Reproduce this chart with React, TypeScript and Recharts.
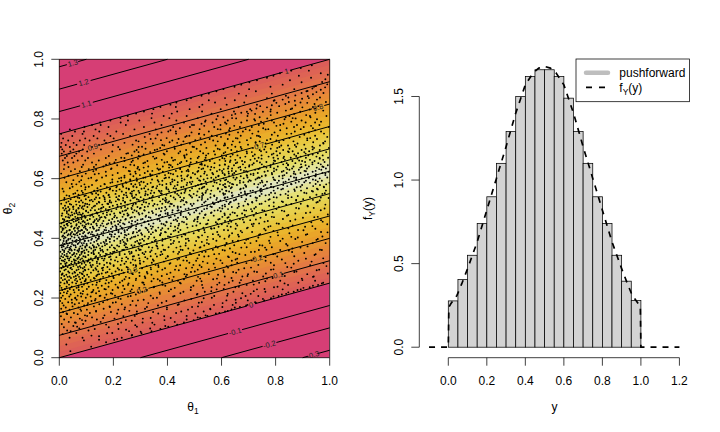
import { ComposedChart, Area, Bar, Line, Scatter, XAxis, YAxis, ReferenceLine, ReferenceArea, CartesianGrid } from 'recharts'

// left panel: colour bands, given as theta2 where each band starts at theta1 = 0 and theta1 = 1
const bandStartLeft = [-1, 0, .019, .038, .056, .075, .094, .113, .131, .15, .169, .188, .206, .225, .244, .263, .281, .3, .319, .338, .356, .375, .394, .413, .431, .45, .469, .488, .506, .525, .544, .563, .581, .6, .619, .638, .656, .675, .694, .713, .731, .75]
const bandStartRight = [-1, .25, .269, .288, .306, .325, .344, .363, .381, .4, .419, .438, .456, .475, .494, .513, .531, .55, .569, .588, .606, .625, .644, .663, .681, .7, .719, .738, .756, .775, .794, .813, .831, .85, .869, .888, .906, .925, .944, .963, .981, 1]
const bandColors = [
  '#D63E75', '#DC5D59', '#DE6355', '#E06A50', '#E2724A', '#E47A44', '#E6823E', '#E78B36', '#E89431', '#E99D2C', '#E9A529',
  '#EAAE2A', '#EAB62D', '#E9BF35', '#E8C840', '#E7CF4C', '#E6D656', '#E5DC62', '#E5E077', '#E4E49A', '#E2E6BD',
  '#E2E6BD', '#E4E49A', '#E5E077', '#E5DC62', '#E6D656', '#E7CF4C', '#E8C840', '#E9BF35', '#EAB62D', '#EAAE2A',
  '#E9A529', '#E99D2C', '#E89431', '#E78B36', '#E6823E', '#E47A44', '#E2724A', '#E06A50', '#DE6355', '#DC5D59', '#D63E75',
]
const gridStops = [.02, .04, .06, .08, .1, .12, .14, .16, .18, .2, .22, .24, .26, .28, .3, .32, .34, .36, .38, .4, .42, .44, .46, .48, .5, .52, .54, .56, .58, .6, .62, .64, .66, .68, .7, .72, .74, .76, .78, .8, .82, .84, .86, .88, .9, .92, .94, .96, .98]
const unitTicks = [0, .2, .4, .6, .8, 1]

// contour pieces: theta1 from, theta2 from, theta1 to, theta2 to (gaps are for the labels)
const contourPieces = [
  [0, .975, .028, .982], [.07, .9925, .1, 1],
  [0, .9, .066, .9165], [.116, .929, .4, 1],
  [0, .825, .077, .844], [.124, .856, .7, 1],
  [0, .75, .826, .9565], [.853, .963, 1, 1],
  [0, .675, .089, .697], [.153, .713, 1, .925],
  [0, .6, .935, .834], [.98, .845, 1, .85],
  [0, .525, .715, .704], [.765, .716, 1, .775],
  [0, .45, 1, .7],
  [0, .375, 1, .625],
  [0, .3, 1, .55],
  [0, .225, .245, .286], [.295, .299, 1, .475],
  [0, .15, .28, .22], [.33, .2325, .711, .3278], [.754, .3385, 1, .4],
  [0, .075, .79, .2725], [.83, .2825, 1, .325],
  [0, 0, .693, .173], [.724, .181, 1, .25],
  [.3, 0, .624, .081], [.676, .094, 1, .175],
  [.6, 0, .752, .038], [.803, .051, 1, .1],
  [.9, 0, .92, .005], [.956, .014, 1, .025],
]
const contourLabels = [
  { x: .05, y: .9875, text: '1.3' }, { x: .09, y: .9225, text: '1.2' }, { x: .1, y: .85, text: '1.1' },
  { x: .84, y: .96, text: '1' }, { x: .124, y: .706, text: '0.9' }, { x: .957, y: .839, text: '0.8' },
  { x: .74, y: .71, text: '0.7' }, { x: .27, y: .2925, text: '0.3' }, { x: .305, y: .226, text: '0.2' },
  { x: .733, y: .333, text: '0.2' }, { x: .81, y: .2775, text: '0.1' }, { x: .709, y: .177, text: '0' },
  { x: .65, y: .0875, text: '-0.1' }, { x: .777, y: .0445, text: '-0.2' }, { x: .938, y: .0095, text: '-0.3' },
]

// sample points (estimated), one row per theta2 (first number), then theta1 values, all in thousandths
const dotRows = [
  [22, 41], [37, 118], [44, 26], [52, 173], [58, 91], [63, 214], [67, 38], [72, 147], [76, 269], [79, 12], [83, 196, 63],
  [87, 301], [91, 108, 29], [94, 247], [98, 74, 336], [102, 183, 17], [106, 52, 392], [109, 281, 126], [113, 9, 217, 88],
  [117, 344, 61], [120, 153, 427, 35], [124, 268, 97], [128, 18, 471, 139], [131, 76, 309, 204], [135, 43, 512, 121],
  [139, 237, 6, 388], [142, 95, 167, 541], [146, 29, 286, 68], [150, 432, 113, 592, 54], [153, 191, 14, 347], [157, 81, 623, 259, 136],
  [161, 38, 476, 102, 218], [164, 317, 7, 164, 558], [168, 71, 649, 24, 243, 398], [172, 128, 513, 49, 186], [175, 92, 284, 691, 16, 365],
  [179, 57, 442, 148, 231], [183, 11, 329, 106, 604, 73], [186, 209, 33, 527, 162, 724], [190, 86, 396, 3, 271, 119], [194, 46, 652, 178, 312, 64],
  [197, 134, 488, 22, 753, 227], [201, 98, 361, 59, 564, 168, 7], [205, 254, 37, 792, 116, 421, 81], [208, 152, 13, 338, 68, 621, 206],
  [212, 42, 283, 104, 509, 823, 174], [216, 79, 191, 4, 448, 136, 677, 28], [219, 233, 56, 371, 119, 847, 17, 292], [223, 147, 31, 562, 88, 263, 719, 405],
  [227, 11, 197, 324, 72, 486, 126, 881, 53], [230, 102, 39, 608, 241, 167, 759, 21], [234, 296, 64, 427, 143, 8, 903, 218, 531],
  [238, 84, 182, 351, 27, 664, 109, 46, 807], [241, 157, 2, 273, 496, 71, 938, 236, 392], [245, 36, 123, 584, 208, 91, 314, 719],
  [249, 62, 449, 171, 19, 833, 256, 104, 971], [252, 139, 81, 307, 5, 627, 224, 48, 381], [256, 193, 28, 526, 94, 762, 341, 149, 66],
  [260, 13, 283, 116, 418, 58, 899, 174, 672, 36], [263, 241, 77, 364, 152, 21, 569, 98, 461], [267, 43, 201, 7, 789, 128, 318, 86, 637, 259],
  [271, 162, 54, 423, 109, 246, 938, 31, 513, 73], [274, 92, 297, 18, 184, 696, 137, 379, 61, 834], [278, 26, 141, 472, 68, 221, 103, 587, 9, 341],
  [282, 83, 194, 326, 49, 764, 12, 269, 536, 157, 993], [285, 117, 37, 411, 76, 238, 654, 172, 296, 58], [289, 3, 208, 89, 501, 144, 33, 877, 363, 721],
  [293, 161, 64, 278, 19, 442, 126, 607, 96, 231, 952], [296, 47, 339, 108, 186, 24, 553, 71, 792, 254], [300, 134, 8, 391, 216, 87, 684, 158, 306, 41, 469],
  [304, 69, 249, 119, 31, 526, 178, 843, 93, 367, 16], [307, 201, 52, 432, 141, 284, 76, 619, 13, 988, 323], [311, 98, 166, 37, 356, 227, 736, 63, 496, 124, 274],
  [315, 22, 408, 189, 83, 571, 299, 6, 149, 867, 44, 241], [318, 113, 57, 264, 342, 176, 658, 27, 93, 481, 782], [322, 216, 71, 139, 19, 387, 531, 247, 46, 933, 104, 312],
  [326, 88, 164, 36, 459, 281, 9, 712, 123, 596, 61, 206], [329, 143, 272, 54, 346, 21, 823, 191, 78, 437, 109, 652], [333, 31, 232, 117, 511, 67, 394, 158, 976, 3, 296, 84],
  [337, 184, 42, 318, 97, 627, 248, 14, 763, 133, 469, 72, 211], [340, 59, 136, 401, 26, 276, 869, 169, 89, 552, 338, 7], [344, 107, 223, 48, 374, 151, 688, 19, 293, 76, 517, 944],
  [348, 28, 196, 82, 439, 127, 261, 64, 798, 356, 11, 591, 172], [351, 146, 39, 308, 94, 223, 483, 55, 906, 189, 652, 119, 267],
  [355, 71, 4, 258, 162, 377, 108, 541, 33, 723, 204, 86, 422, 319], [359, 213, 127, 46, 341, 18, 612, 284, 67, 849, 153, 496, 92],
  [362, 37, 178, 101, 449, 239, 57, 766, 301, 12, 568, 133, 964, 386], [366, 84, 293, 151, 23, 364, 206, 631, 74, 118, 477, 41, 862],
  [370, 9, 246, 112, 522, 61, 187, 331, 693, 29, 137, 404, 786, 272], [373, 159, 78, 306, 43, 448, 221, 96, 579, 16, 918, 362, 128],
  [377, 53, 194, 267, 124, 647, 32, 382, 86, 502, 241, 741, 7, 169], [381, 101, 324, 19, 176, 413, 68, 839, 247, 553, 142, 296, 47],
  [384, 226, 91, 38, 361, 154, 618, 13, 468, 293, 985, 116, 71, 707], [388, 62, 187, 443, 129, 26, 343, 76, 527, 238, 898, 164, 281],
  [392, 138, 27, 252, 381, 94, 661, 203, 49, 479, 313, 776, 108, 581], [395, 78, 173, 4, 298, 118, 546, 234, 64, 412, 951, 33, 357, 691],
  [399, 214, 41, 329, 146, 89, 476, 263, 611, 17, 826, 186, 392, 121], [403, 56, 268, 104, 437, 23, 179, 736, 72, 351, 516, 241, 882, 135],
  [406, 193, 11, 316, 84, 594, 147, 402, 221, 46, 664, 973, 281, 98, 453], [410, 129, 67, 248, 373, 31, 528, 162, 809, 96, 291, 629, 14],
  [414, 34, 206, 117, 461, 76, 339, 187, 743, 53, 413, 256, 568, 917, 141], [417, 88, 303, 19, 156, 639, 229, 43, 376, 107, 497, 851, 272, 64],
  [421, 163, 47, 274, 121, 391, 8, 584, 196, 713, 92, 331, 441, 968, 242], [425, 71, 219, 136, 28, 516, 358, 77, 671, 183, 294, 792, 423, 58],
  [428, 251, 103, 39, 327, 167, 609, 82, 448, 211, 883, 12, 536, 146, 376], [432, 16, 191, 284, 69, 403, 128, 758, 341, 54, 563, 233, 947, 98, 652],
  [436, 148, 57, 366, 231, 91, 474, 23, 697, 172, 319, 826, 114, 533, 262], [439, 73, 266, 124, 6, 428, 197, 589, 44, 346, 773, 211, 634, 96, 909],
  [443, 207, 31, 153, 392, 86, 507, 271, 658, 18, 441, 139, 863, 304, 63],[447, 118, 241, 64, 331, 176, 543, 27, 712, 386, 99, 471, 991, 218, 601],
  [450, 43, 289, 159, 8, 413, 107, 626, 236, 79, 804, 348, 521, 181, 739], [454, 192, 72, 258, 126, 461, 36, 579, 314, 683, 16, 397, 932, 224, 94],
  [458, 61, 143, 372, 217, 89, 498, 269, 771, 29, 613, 163, 436, 854, 328], [461, 227, 104, 19, 341, 184, 551, 66, 423, 706, 131, 289, 968, 47, 631],
  [465, 82, 308, 138, 51, 472, 246, 593, 13, 369, 827, 196, 668, 113, 511], [469, 171, 37, 263, 406, 96, 744, 213, 534, 68, 337, 901, 151, 439, 622],
  [472, 24, 126, 381, 279, 59, 603, 168, 459, 786, 234, 84, 514, 956, 319, 693], [476, 206, 93, 321, 147, 41, 571, 253, 427, 9, 658, 114, 842, 368, 719],
  [480, 69, 188, 296, 34, 483, 122, 632, 358, 77, 764, 239, 541, 993, 401], [483, 141, 252, 11, 393, 203, 87, 519, 676, 162, 449, 307, 873, 56, 611],
  [487, 46, 331, 107, 224, 563, 74, 418, 789, 176, 641, 272, 928, 499, 138], [491, 193, 28, 286, 154, 376, 99, 597, 234, 713, 451, 62, 832, 527, 343],
  [494, 116, 63, 419, 247, 506, 181, 684, 19, 314, 751, 132, 586, 967, 278, 441], [498, 38, 211, 358, 89, 467, 146, 624, 268, 803, 52, 536, 396, 709, 172],
  [502, 157, 83, 301, 14, 438, 229, 659, 121, 379, 876, 512, 267, 941, 71, 593], [505, 243, 51, 186, 392, 104, 727, 316, 564, 33, 449, 812, 163, 638, 289],
  [509, 76, 132, 271, 491, 21, 603, 347, 776, 198, 424, 918, 93, 547, 681], [513, 214, 44, 363, 159, 528, 253, 699, 111, 462, 839, 306, 612, 63, 984],
  [516, 96, 283, 178, 411, 7, 574, 332, 748, 139, 497, 228, 663, 893, 381], [520, 148, 26, 321, 243, 536, 87, 631, 402, 793, 192, 471, 951, 568, 714],
  [524, 61, 209, 373, 124, 449, 296, 687, 34, 541, 823, 169, 618, 406, 762], [527, 113, 263, 458, 81, 596, 344, 729, 187, 512, 876, 236, 963, 646, 391],
  [531, 42, 168, 312, 429, 217, 654, 98, 778, 383, 549, 902, 287, 691, 131], [535, 236, 74, 393, 528, 149, 611, 334, 846, 461, 19, 731, 273, 996, 583],
  [538, 186, 301, 56, 447, 622, 251, 793, 108, 518, 369, 674, 927, 211, 859], [542, 93, 269, 412, 163, 573, 346, 741, 37, 486, 639, 882, 221, 707, 528],
  [546, 144, 327, 481, 71, 608, 239, 776, 396, 532, 951, 284, 664, 183, 818], [549, 208, 52, 379, 559, 122, 696, 436, 837, 268, 613, 973, 319, 748, 497],
  [553, 87, 296, 463, 174, 638, 351, 726, 541, 906, 247, 428, 783, 118, 672], [557, 231, 16, 406, 319, 594, 686, 153, 847, 511, 269, 938, 628, 744, 371],
  [560, 129, 368, 483, 67, 617, 276, 793, 562, 894, 198, 439, 716, 341, 986], [564, 257, 403, 96, 548, 186, 669, 821, 329, 743, 467, 956, 602, 223, 869],
  [568, 39, 314, 527, 141, 681, 423, 768, 248, 587, 916, 359, 808, 634, 491], [571, 176, 286, 451, 638, 97, 733, 531, 878, 344, 616, 979, 211, 792, 396],
  [575, 213, 362, 504, 81, 691, 274, 843, 569, 427, 939, 756, 153, 628, 319], [579, 121, 437, 298, 606, 762, 381, 898, 513, 687, 234, 828, 964, 471, 657],
  [582, 266, 46, 544, 396, 721, 167, 613, 857, 488, 948, 326, 783, 639, 526], [586, 189, 338, 473, 668, 248, 806, 582, 927, 411, 743, 631, 999, 296, 874],
  [590, 74, 418, 303, 561, 699, 837, 216, 492, 768, 624, 956, 367, 886, 541], [593, 229, 136, 381, 596, 749, 453, 912, 287, 668, 812, 521, 971, 708],
  [597, 343, 463, 196, 617, 794, 534, 876, 262, 726, 938, 418, 651, 849, 571], [601, 108, 286, 511, 389, 682, 826, 453, 963, 732, 607, 221, 897, 548],
  [604, 241, 406, 579, 158, 736, 318, 644, 868, 486, 922, 791, 696, 991], [608, 361, 84, 523, 671, 437, 813, 274, 588, 749, 947, 628, 856, 473],
  [612, 197, 298, 612, 476, 763, 391, 908, 546, 693, 832, 984, 718, 343], [615, 421, 263, 569, 131, 708, 873, 641, 949, 336, 787, 502, 919, 611],
  [619, 316, 494, 647, 216, 786, 566, 841, 404, 973, 734, 604, 892], [623, 172, 383, 538, 696, 453, 823, 937, 281, 759, 626, 868, 996, 511],
  [626, 257, 431, 602, 344, 771, 514, 907, 683, 829, 471, 948, 638], [630, 136, 368, 559, 724, 476, 851, 296, 671, 969, 803, 593, 886],
  [634, 289, 447, 639, 193, 794, 532, 916, 363, 741, 861, 986, 624], [637, 406, 573, 246, 688, 839, 516, 952, 766, 312, 891, 663],
  [641, 329, 481, 163, 626, 757, 923, 549, 808, 383, 973, 702, 866], [645, 214, 538, 703, 412, 846, 646, 911, 277, 781, 593, 993],
  [648, 361, 483, 612, 749, 936, 521, 828, 679, 894, 438, 967], [652, 186, 446, 574, 792, 653, 873, 311, 719, 958, 526, 841],
  [656, 399, 267, 631, 508, 766, 909, 686, 822, 451, 981], [659, 326, 557, 731, 471, 862, 614, 944, 241, 798, 676, 898],
  [663, 428, 593, 209, 707, 834, 538, 927, 379, 651, 976], [667, 291, 486, 748, 611, 881, 353, 963, 723, 809, 566],
  [670, 416, 669, 541, 792, 229, 912, 464, 856, 737, 994], [674, 347, 516, 633, 774, 893, 298, 688, 951, 831],
  [678, 268, 462, 601, 748, 921, 543, 806, 659, 974], [681, 389, 576, 723, 312, 869, 641, 937, 471, 786],
  [685, 441, 254, 694, 532, 816, 956, 608, 883], [689, 336, 614, 766, 487, 906, 293, 849, 712, 987],
  [692, 521, 398, 657, 803, 924, 572, 746, 863], [696, 286, 469, 741, 636, 896, 353, 963, 828],
  [700, 427, 586, 782, 319, 674, 911, 508, 851], [703, 544, 373, 716, 623, 942, 806, 997],
  [707, 306, 493, 651, 876, 762, 426, 936], [711, 388, 578, 733, 846, 964, 609, 821],
  [714, 451, 271, 698, 524, 906, 787, 638], [718, 346, 612, 763, 483, 881, 977],
  [722, 539, 408, 667, 813, 939, 726], [725, 293, 586, 741, 866, 459, 983, 642],
  [729, 376, 503, 694, 829, 917, 768], [733, 441, 623, 556, 781, 953, 338],
  [736, 522, 708, 851, 397, 928, 653], [740, 316, 598, 743, 466, 889, 991],
  [744, 481, 671, 808, 564, 946, 731], [747, 363, 536, 786, 906, 629],
  [751, 432, 616, 858, 714, 979, 517], [755, 489, 661, 796, 923, 378],
  [758, 553, 736, 871, 431, 968], [762, 411, 628, 817, 704, 946],
  [766, 519, 689, 893, 586, 773], [769, 446, 754, 631, 938, 841],
  [773, 573, 712, 868, 483, 997], [777, 536, 803, 647, 931],
  [780, 491, 738, 596, 879, 962], [784, 618, 829, 526, 756],
  [788, 673, 911, 567, 794], [791, 539, 746, 858, 968],
  [795, 623, 786, 896, 694], [799, 581, 833, 721, 953],
  [802, 654, 874, 769], [806, 607, 741, 929, 837],
  [810, 696, 851, 988], [813, 638, 782, 913],
  [817, 724, 869, 651], [821, 673, 806, 947],
  [824, 753, 891, 694], [828, 711, 838, 976],
  [832, 782, 926], [835, 729, 861, 946],
  [839, 768, 899], [843, 813, 958, 743],
  [846, 786, 873], [850, 836, 944],
  [854, 803, 917], [857, 849, 986],
  [861, 871, 793], [865, 826, 953], [868, 898], [872, 847, 964], [876, 919], [879, 873], [883, 938], [887, 896, 977],
  [890, 951], [894, 918], [898, 967], [902, 936], [906, 983], [910, 949], [916, 991], [924, 972], [933, 984], [948, 993],
]

// second pass over the same panel, between the rows above
const moreDotRows = [
  [60, 147, 203], [67, 231, 86], [74, 268, 119], [82, 304, 177], [89, 341, 42, 258], [96, 374, 219, 131], [104, 403, 287, 66], [111, 436, 352, 173],
  [118, 461, 308, 229, 58], [126, 497, 246, 389, 84], [133, 521, 412, 162, 338], [140, 548, 279, 471, 103], [148, 579, 366, 503, 27, 214],
  [155, 613, 287, 451, 136, 534], [162, 637, 398, 559, 241, 78], [170, 668, 324, 491, 187, 603], [177, 696, 438, 572, 263, 104, 641],
  [184, 727, 379, 516, 198, 653, 47], [192, 758, 463, 618, 291, 132, 697], [199, 783, 534, 347, 672, 218, 59], [207, 811, 426, 689, 264, 573, 149, 736],
  [214, 839, 511, 372, 708, 196, 623, 86], [221, 867, 459, 644, 307, 762, 123, 538], [229, 893, 582, 413, 731, 268, 826, 172],
  [236, 926, 487, 651, 349, 794, 216, 563, 71], [244, 957, 528, 693, 382, 846, 254, 611, 137], [251, 976, 446, 739, 592, 311, 884, 183, 667, 29],
  [258, 641, 372, 817, 508, 233, 946, 97, 439, 716], [265, 284, 583, 131, 768, 406, 897, 62, 521, 349], [272, 677, 199, 468, 941, 316, 754, 38, 612],
  [280, 398, 826, 147, 553, 272, 698, 463, 11, 917, 86], [287, 731, 324, 608, 178, 869, 487, 56, 253, 643], [295, 512, 94, 783, 381, 221, 663, 428, 961, 137],
  [302, 858, 253, 576, 43, 709, 338, 162, 491, 624, 79], [310, 447, 928, 116, 637, 283, 794, 519, 24, 366, 201], [317, 692, 187, 548, 72, 411, 836, 298, 139, 603, 977],
  [325, 349, 763, 14, 506, 231, 638, 107, 884, 472, 56, 298], [332, 581, 143, 912, 326, 719, 68, 443, 254, 167, 658, 37], [339, 272, 806, 401, 96, 536, 189, 743, 31, 624, 361],
  [347, 948, 128, 487, 666, 242, 53, 381, 791, 176, 573, 314], [354, 443, 82, 709, 199, 861, 336, 18, 528, 267, 641, 126], [361, 159, 604, 296, 971, 73, 456, 738, 233, 391, 44, 817],
  [369, 519, 37, 344, 673, 128, 892, 251, 433, 96, 761, 586, 202], [376, 278, 751, 146, 467, 59, 613, 359, 844, 214, 102, 536, 13], [384, 686, 421, 83, 937, 301, 168, 546, 27, 779, 243, 619],
  [391, 94, 353, 817, 506, 226, 641, 16, 424, 173, 729, 288, 59], [398, 569, 142, 873, 307, 76, 468, 698, 251, 34, 382, 956, 187],
  [405, 332, 781, 18, 513, 203, 627, 91, 409, 858, 276, 146, 549], [412, 124, 466, 739, 58, 306, 912, 193, 588, 373, 41, 661, 243],
  [420, 807, 287, 538, 111, 394, 68, 676, 219, 479, 26, 992, 346], [427, 173, 624, 356, 84, 763, 241, 513, 903, 37, 429, 298, 139],
  [434, 561, 12, 438, 211, 847, 322, 126, 694, 381, 67, 573, 256], [441, 284, 716, 94, 493, 163, 621, 936, 46, 338, 781, 226, 412],
  [449, 653, 137, 378, 29, 548, 812, 267, 108, 443, 719, 193, 584], [456, 86, 316, 974, 454, 204, 636, 53, 759, 396, 129, 511, 281],
  [463, 501, 244, 679, 18, 363, 873, 148, 588, 431, 72, 727, 302], [471, 156, 794, 33, 412, 268, 626, 511, 97, 943, 331, 203, 468],
  [478, 373, 612, 121, 847, 256, 48, 539, 686, 176, 449, 83, 764], [485, 28, 561, 293, 728, 401, 139, 912, 64, 346, 649, 226, 478],
  [493, 691, 182, 437, 99, 823, 316, 574, 243, 36, 758, 507, 391], [500, 253, 886, 71, 369, 603, 154, 478, 721, 24, 546, 981, 298],
  [507, 408, 127, 664, 328, 52, 793, 216, 559, 438, 919, 86, 613], [515, 741, 274, 39, 486, 181, 627, 352, 858, 103, 571, 416, 697],
  [522, 312, 588, 146, 956, 243, 469, 73, 713, 394, 634, 827, 186], [529, 527, 18, 774, 221, 396, 652, 119, 876, 453, 293, 581, 938],
  [537, 167, 613, 342, 804, 491, 68, 726, 279, 559, 967, 423, 136], [544, 692, 248, 441, 98, 573, 846, 317, 763, 182, 508, 641, 27],
  [551, 376, 914, 136, 529, 263, 687, 451, 59, 798, 338, 606, 982], [559, 83, 466, 749, 211, 618, 378, 871, 142, 543, 293, 707, 934],
  [566, 586, 304, 12, 827, 432, 671, 188, 518, 953, 257, 746, 396], [573, 236, 691, 459, 109, 783, 347, 612, 892, 49, 536, 274, 978],
  [581, 412, 63, 859, 524, 281, 736, 168, 643, 371, 987, 594, 93], [588, 751, 196, 438, 906, 312, 574, 26, 681, 829, 246, 483],
  [595, 139, 613, 364, 798, 52, 517, 263, 948, 426, 703, 81], [603, 487, 229, 876, 118, 656, 394, 741, 19, 562, 311, 923],
  [610, 68, 763, 338, 589, 173, 948, 451, 694, 241, 826, 34], [617, 536, 146, 412, 867, 7, 718, 283, 627, 369, 984, 98],
  [625, 261, 691, 43, 478, 794, 126, 583, 912, 327, 653, 76], [632, 17, 843, 373, 608, 191, 736, 526, 961, 58, 447, 109],
  [639, 562, 128, 781, 291, 896, 34, 669, 418, 237, 83, 977], [647, 88, 406, 714, 19, 613, 846, 173, 527, 263, 136],
  [654, 317, 52, 936, 486, 121, 742, 204, 658, 31, 389], [661, 146, 794, 13, 543, 272, 887, 68, 421, 633, 96],
  [669, 21, 603, 359, 106, 829, 47, 512, 241, 963, 172], [676, 463, 84, 716, 183, 28, 294, 876, 56, 617],
  [684, 128, 9, 551, 248, 792, 63, 386, 911, 36], [691, 73, 693, 196, 17, 447, 103, 846, 278, 41],
  [698, 11, 362, 154, 758, 52, 593, 224, 937, 87], [706, 218, 39, 498, 121, 671, 6, 814, 293],
  [713, 64, 147, 613, 24, 381, 92, 871, 198], [720, 173, 8, 436, 241, 726, 53, 976, 319],
  [728, 33, 284, 112, 569, 76, 803, 167, 418], [735, 96, 201, 14, 659, 141, 917, 356],
  [743, 48, 262, 127, 738, 189, 471, 583], [750, 178, 7, 334, 86, 841, 516, 236],
  [758, 91, 211, 403, 58, 679, 148], [765, 134, 278, 39, 596, 763, 357],
  [773, 93, 421, 182, 904, 313, 668], [780, 153, 246, 498, 817, 378, 121],
  [788, 227, 352, 151, 613, 946, 461], [795, 189, 433, 296, 724, 254, 541],
  [803, 226, 512, 341, 863, 639, 407], [810, 253, 386, 471, 927, 586],
  [818, 284, 563, 343, 698, 416], [825, 313, 436, 781, 646, 528],
  [833, 348, 597, 482, 856, 706], [840, 374, 518, 663, 431, 938],
  [848, 411, 731, 529, 619], [855, 433, 576, 892, 684],
  [863, 471, 649, 553, 796], [870, 487, 768, 613, 923],
  [878, 526, 691, 838], [885, 553, 786, 664],
  [893, 581, 727, 914], [900, 607, 869, 702],
  [908, 648, 781, 942], [915, 673, 826],
  [923, 703, 896], [930, 731, 853], [938, 768, 931], [945, 792, 886], [953, 816, 967], [962, 858, 923], [971, 893], [980, 934],
]

// right panel
const binMids = [.025, .075, .125, .175, .225, .275, .325, .375, .425, .475, .525, .575, .625, .675, .725, .775, .825, .875, .925, .975]
const binHeights = [.277, .405, .55, .74, .9, 1.1, 1.29, 1.5, 1.62, 1.66, 1.66, 1.62, 1.49, 1.29, 1.1, .9, .74, .55, .395, .28]
const curveX = [-.1, 0, .003, .013, .045, .07, .1, .15, .2, .25, .3, .35, .4, .44, .47, .5, .53, .56, .6, .65, .7, .75, .8, .85, .9, .93, .955, .987, .997, 1, 1.2]
const curveF = [0, 0, .24, .26, .31, .38, .47, .63, .82, 1.01, 1.2, 1.4, 1.57, 1.64, 1.67, 1.68, 1.67, 1.64, 1.57, 1.4, 1.2, 1.01, .82, .63, .47, .38, .31, .26, .24, 0, 0]
const yTicks = [0, .5, 1, 1.5]
const xTicks = [0, .2, .4, .6, .8, 1, 1.2]

const FONT = '"Liberation Sans", Arial, sans-serif'
const MARGIN = { top: 59.3, right: 30.3, bottom: 0, left: 0 }
const BIN_PX = 9.63

const bandRows = [
  Object.fromEntries([['x', 0], ...bandStartLeft.map((v, i) => [`b${i}`, [v, 3]])]),
  Object.fromEntries([['x', 1], ...bandStartRight.map((v, i) => [`b${i}`, [v, 3]])]),
]
const dots = [...dotRows, ...moreDotRows].flatMap((r) => r.slice(1).map((v) => ({ x: v / 1000, y: r[0] / 1000 })))

const binRows = binMids.map((x, i) => ({ x, height: binHeights[i] }))
const curveRows = curveX.map((x, i) => ({ x, curve: curveF[i] }))

function BottomTick({ x, y, payload }: any) {
  return <text x={x} y={y + 19} textAnchor="middle" fontSize={12} fontFamily={FONT} fill="#000">{payload.value.toFixed(1)}</text>
}

function LeftTick({ x, y, payload }: any) {
  return <text transform={`translate(${x - 8.7},${y}) rotate(-90)`} textAnchor="middle" fontSize={12} fontFamily={FONT} fill="#000">{payload.value.toFixed(1)}</text>
}

const Dot = ({ cx, cy }: any) => <circle cx={cx} cy={cy} r={0.95} fill="#000" />

const ContourText = ({ cx, cy, payload }: any) => (
  <text transform={`translate(${cx},${cy}) rotate(-15.4)`} textAnchor="middle" dy={2.6} fontSize={7.5} fontFamily={FONT} fill="#222">{payload.text}</text>
)

// the number axis leaves the bars almost no band, so the bin width is set here
const HistBar = ({ x, y, width, height }: any) => (
  <rect x={x + width / 2 - BIN_PX / 2} y={y} width={BIN_PX} height={height} fill="#D3D3D3" stroke="#000" strokeWidth={0.75} />
)

const axisProps = { stroke: '#000', strokeWidth: 0.75 }

function ThetaPanel() {
  return (
    <ComposedChart width={360} height={432} data={bandRows} margin={MARGIN}>
      <XAxis dataKey="x" type="number" domain={[0, 1]} allowDataOverflow ticks={unitTicks} height={74.3} tickSize={8} tickMargin={0} tick={BottomTick} axisLine={false} tickLine={axisProps} />
      <YAxis type="number" domain={[0, 1]} allowDataOverflow ticks={unitTicks} width={59.3} tickSize={8} tickMargin={0} tick={LeftTick} axisLine={false} tickLine={axisProps} />
      {bandColors.map((c, i) => (
        <Area key={c + i} dataKey={`b${i}`} type="linear" stroke="none" fill={c} fillOpacity={1} dot={false} activeDot={false} isAnimationActive={false} />
      ))}
      <CartesianGrid verticalValues={gridStops} horizontalValues={gridStops} stroke="rgba(255,255,255,0.07)" strokeWidth={0.75} />
      <Scatter data={dots} dataKey="y" shape={Dot} isAnimationActive={false} />
      {contourPieces.map((p, i) => (
        <ReferenceLine key={i} segment={[{ x: p[0], y: p[1] }, { x: p[2], y: p[3] }]} stroke="#000" strokeWidth={1} ifOverflow="visible" />
      ))}
      <Scatter data={contourLabels} dataKey="y" shape={ContourText} isAnimationActive={false} />
      <ReferenceArea x1={0} x2={1} y1={0} y2={1} fill="none" stroke="#000" strokeWidth={0.75} ifOverflow="visible" />
    </ComposedChart>
  )
}

function HistPanel() {
  return (
    <ComposedChart width={360} height={432} data={binRows} margin={MARGIN}>
      <XAxis dataKey="x" type="number" domain={[-.1506, 1.2534]} allowDataOverflow ticks={xTicks} height={74.3} tickSize={8} tickMargin={0} tick={BottomTick} axisLine={false} tickLine={axisProps} />
      <YAxis type="number" domain={[-.0628, 1.7225]} allowDataOverflow ticks={yTicks} width={59.3} tickSize={8} tickMargin={0} tick={LeftTick} axisLine={false} tickLine={axisProps} />
      <Bar dataKey="height" shape={HistBar} isAnimationActive={false} />
      <Line data={curveRows} dataKey="curve" type="linear" stroke="#000" strokeWidth={1.7} strokeDasharray="6 6" dot={false} activeDot={false} isAnimationActive={false} />
      <ReferenceLine segment={[{ x: -.1506, y: 0 }, { x: -.1506, y: 1.5 }]} stroke="#000" strokeWidth={0.75} ifOverflow="visible" />
      <ReferenceLine segment={[{ x: 0, y: -.0628 }, { x: 1.2, y: -.0628 }]} stroke="#000" strokeWidth={0.75} ifOverflow="visible" />
    </ComposedChart>
  )
}

function Overlay() {
  const text = { fontFamily: FONT, fontSize: 12, fill: '#000' }
  return (
    <svg width={720} height={432} style={{ position: 'absolute', left: 0, top: 0 }}>
      <text x={193} y={411} textAnchor="middle" {...text}>θ<tspan fontSize={8.5} dy={3}>1</tspan></text>
      <text x={554.5} y={411} textAnchor="middle" {...text}>y</text>
      <text transform="translate(12,208.5) rotate(-90)" textAnchor="middle" {...text}>θ<tspan fontSize={8.5} dy={3}>2</tspan></text>
      <text transform="translate(372,208.5) rotate(-90)" textAnchor="middle" {...text}>f<tspan fontSize={8.5} dy={3}>Y</tspan><tspan dy={-3}>(y)</tspan></text>
      <rect x={576} y={59} width={113.5} height={42.7} fill="#fff" stroke="#000" strokeWidth={0.75} />
      <line x1={586} x2={608} y1={72.7} y2={72.7} stroke="#BEBEBE" strokeWidth={4.5} strokeLinecap="round" />
      <line x1={586} x2={606} y1={87.3} y2={87.3} stroke="#000" strokeWidth={1.7} strokeDasharray="6 7" />
      <text x={619.3} y={76.7} {...text}>pushforward</text>
      <text x={619.3} y={91.5} {...text}>f<tspan fontSize={8.5} dy={3}>Y</tspan><tspan dy={-3}>(y)</tspan></text>
    </svg>
  )
}

export default function App() {
  return (
    <div style={{ position: 'absolute', left: 0, top: 0, width: 720, height: 432, background: '#fff' }}>
      <div style={{ position: 'absolute', left: 0, top: 0 }}><ThetaPanel /></div>
      <div style={{ position: 'absolute', left: 360, top: 0 }}><HistPanel /></div>
      <Overlay />
    </div>
  )
}
